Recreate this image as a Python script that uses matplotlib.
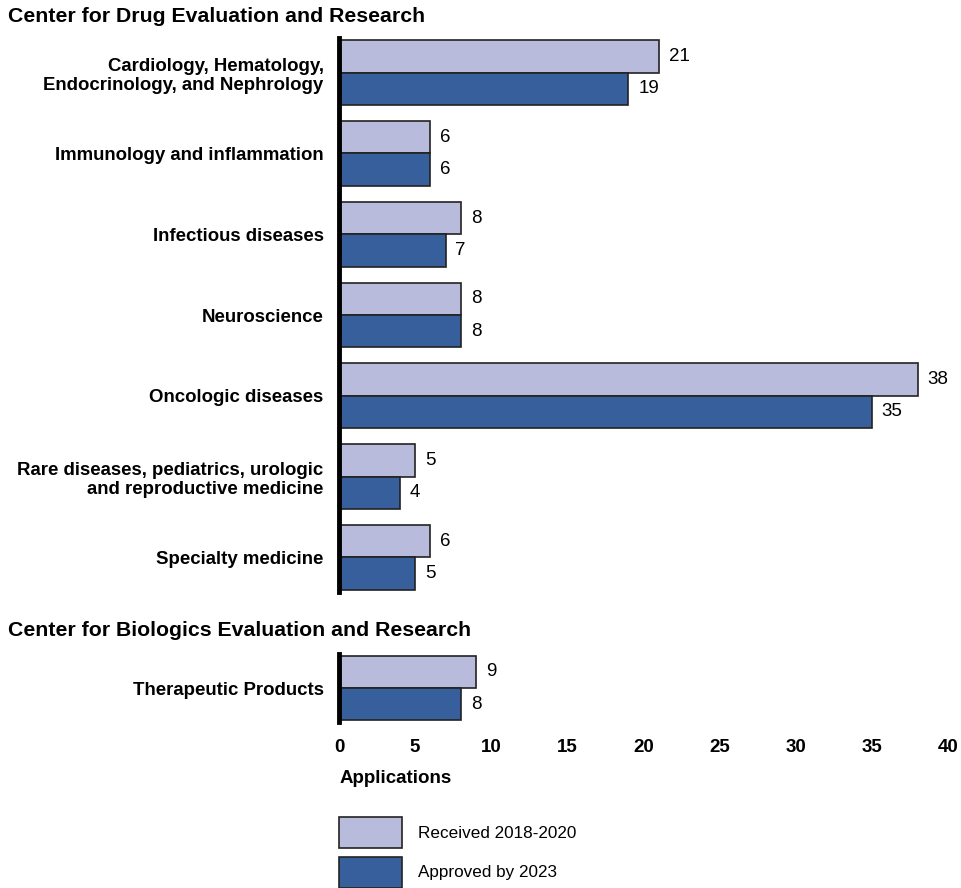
import matplotlib.pyplot as plt
import numpy as np

plt.rcParams['font.family'] = ['Liberation Sans', 'DejaVu Sans']

cder_labels = ['Cardiology, Hematology,\nEndocrinology, and Nephrology',
               'Immunology and inflammation',
               'Infectious diseases',
               'Neuroscience',
               'Oncologic diseases',
               'Rare diseases, pediatrics, urologic\nand reproductive medicine',
               'Specialty medicine']
cder_received = [21, 6, 8, 8, 38, 5, 6]
cder_approved = [19, 6, 7, 8, 35, 4, 5]

cber_labels = ['Therapeutic Products']
cber_received = [9]
cber_approved = [8]

xticks = [0, 5, 10, 15, 20, 25, 30, 35, 40]

c_recv = '#b8bbdb'
c_appr = '#365f9b'
edge = '#222222'
bh = 0.4

fig = plt.figure(figsize=(9.61, 8.88), dpi=100)
ax1 = fig.add_axes([339/961, 1-592/888, 609/961, 554/888])
ax2 = fig.add_axes([339/961, 1-722/888, 609/961, 68/888])


def draw(ax, labels, recv, appr, ylim):
    y = np.arange(len(labels))
    b1 = ax.barh(y - bh/2, recv, height=bh, color=c_recv, edgecolor=edge, linewidth=1.2, label='Received 2018-2020')
    b2 = ax.barh(y + bh/2, appr, height=bh, color=c_appr, edgecolor=edge, linewidth=1.2, label='Approved by 2023')
    for yy, v in zip(y - bh/2, recv):
        ax.text(v + 0.65, yy, str(v), va='center', ha='left', fontsize=13.5)
    for yy, v in zip(y + bh/2, appr):
        ax.text(v + 0.65, yy, str(v), va='center', ha='left', fontsize=13.5)
    ax.set_yticks(y)
    ax.set_yticklabels(labels, fontsize=13.4, fontweight='bold', linespacing=1.2)
    ax.tick_params(axis='y', length=0, pad=11)
    ax.set_xlim(0, 40)
    ax.set_ylim(*ylim)
    for s in ['top', 'right', 'bottom']:
        ax.spines[s].set_visible(False)
    ax.spines['left'].set_linewidth(3.5)
    ax.spines['left'].set_color('black')
    return b1, b2


draw(ax1, cder_labels, cder_received, cder_approved, (6.43, -0.43))
b1, b2 = draw(ax2, cber_labels, cber_received, cber_approved, (0.42, -0.42))

ax1.set_xticks([])
ax2.set_xticks(xticks)
ax2.set_xticklabels([str(t) for t in xticks], fontsize=13.5, fontweight='bold')
ax2.tick_params(axis='x', length=0, pad=12)

fig.text(8/961, 1-16/888, 'Center for Drug Evaluation and Research', fontsize=15.3,
         fontweight='bold', va='center', ha='left')
fig.text(8/961, 1-630/888, 'Center for Biologics Evaluation and Research', fontsize=15.3,
         fontweight='bold', va='center', ha='left')
fig.text(340/961, 1-778/888, 'Applications', fontsize=13.5, fontweight='bold',
         va='center', ha='left')

fig.legend(handles=[b1, b2], loc='upper left', bbox_to_anchor=(339/961, 1-817/888),
           frameon=False, fontsize=12.3, handlelength=3.7, handleheight=2.42,
           handletextpad=0.95, labelspacing=0.5, borderpad=0, borderaxespad=0)

fig.savefig('out.png', dpi=100)
